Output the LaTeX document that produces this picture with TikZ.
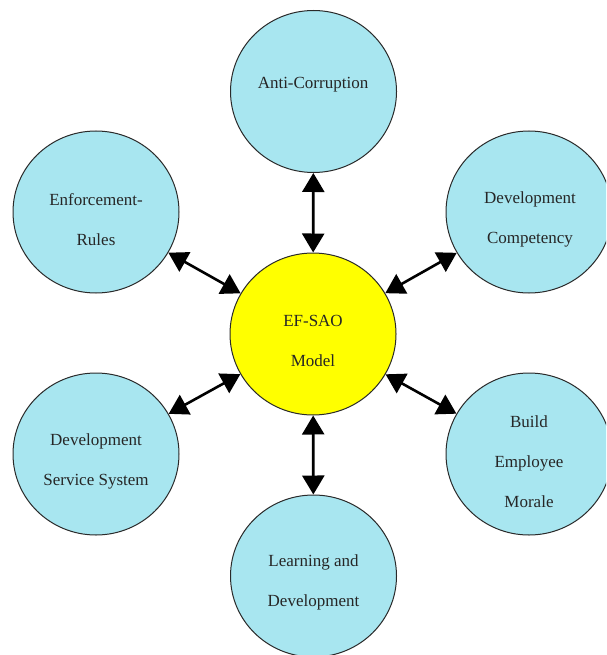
\documentclass[tikz,border=0pt]{standalone}
\usepackage{fontspec}
\setmainfont{Liberation Serif}
\usetikzlibrary{shapes.geometric,arrows.meta}
\definecolor{bubble}{HTML}{A8E6F0}
\definecolor{core}{HTML}{FFFF00}
\definecolor{rim}{HTML}{2A2A2A}
\begin{document}
\begin{tikzpicture}[x=1pt,y=-1pt,
  blob/.style={ellipse,draw=rim,line width=1pt,minimum width=166pt,minimum height=162pt,inner sep=0pt},
  outer/.style={blob,fill=bubble},
  hub/.style={blob,fill=core},
  caption/.style={align=center,text=black!85,font=\fontsize{17}{40}\selectfont},
  link/.style={line width=2.6pt,{Triangle[width=22pt,length=19pt]}-{Triangle[width=22pt,length=19pt]}}]
\useasboundingbox (0,0) rectangle (606,655);
\clip (0,0) rectangle (606,655);
% the seven circles
\node[hub]   (hubnode) at (313,334) {};
\node[outer] (anti)    at (313.5,91.5) {};
\node[outer] (enf)     at (96,212) {};
\node[outer] (comp)    at (529,212) {};
\node[outer] (serv)    at (96,454) {};
\node[outer] (morale)  at (529,454) {};
\node[outer] (learn)   at (313.5,576) {};
% labels
\node[caption] (tHub)    at (313,341) {EF-SAO\\Model};
\node[caption] (tAnti)   at (313,85)  {Anti-Corruption};
\node[caption] (tEnf)    at (96,219.5) {Enforcement-\\Rules};
\node[caption] (tComp)   at (530,219.5) {Development\\Competency};
\node[caption] (tServ)   at (96,461) {Development\\Service System};
\node[caption] (tMorale) at (529,462) {Build\\Employee\\Morale};
\node[caption] (tLearn)  at (313.5,582) {Learning and\\Development};
% two-way links between the hub and each factor
\draw[link] (anti)   -- (hubnode);
\draw[link] (enf)    -- (hubnode);
\draw[link] (comp)   -- (hubnode);
\draw[link] (serv)   -- (hubnode);
\draw[link] (morale) -- (hubnode);
\draw[link] (learn)  -- (hubnode);
\end{tikzpicture}
\end{document}
